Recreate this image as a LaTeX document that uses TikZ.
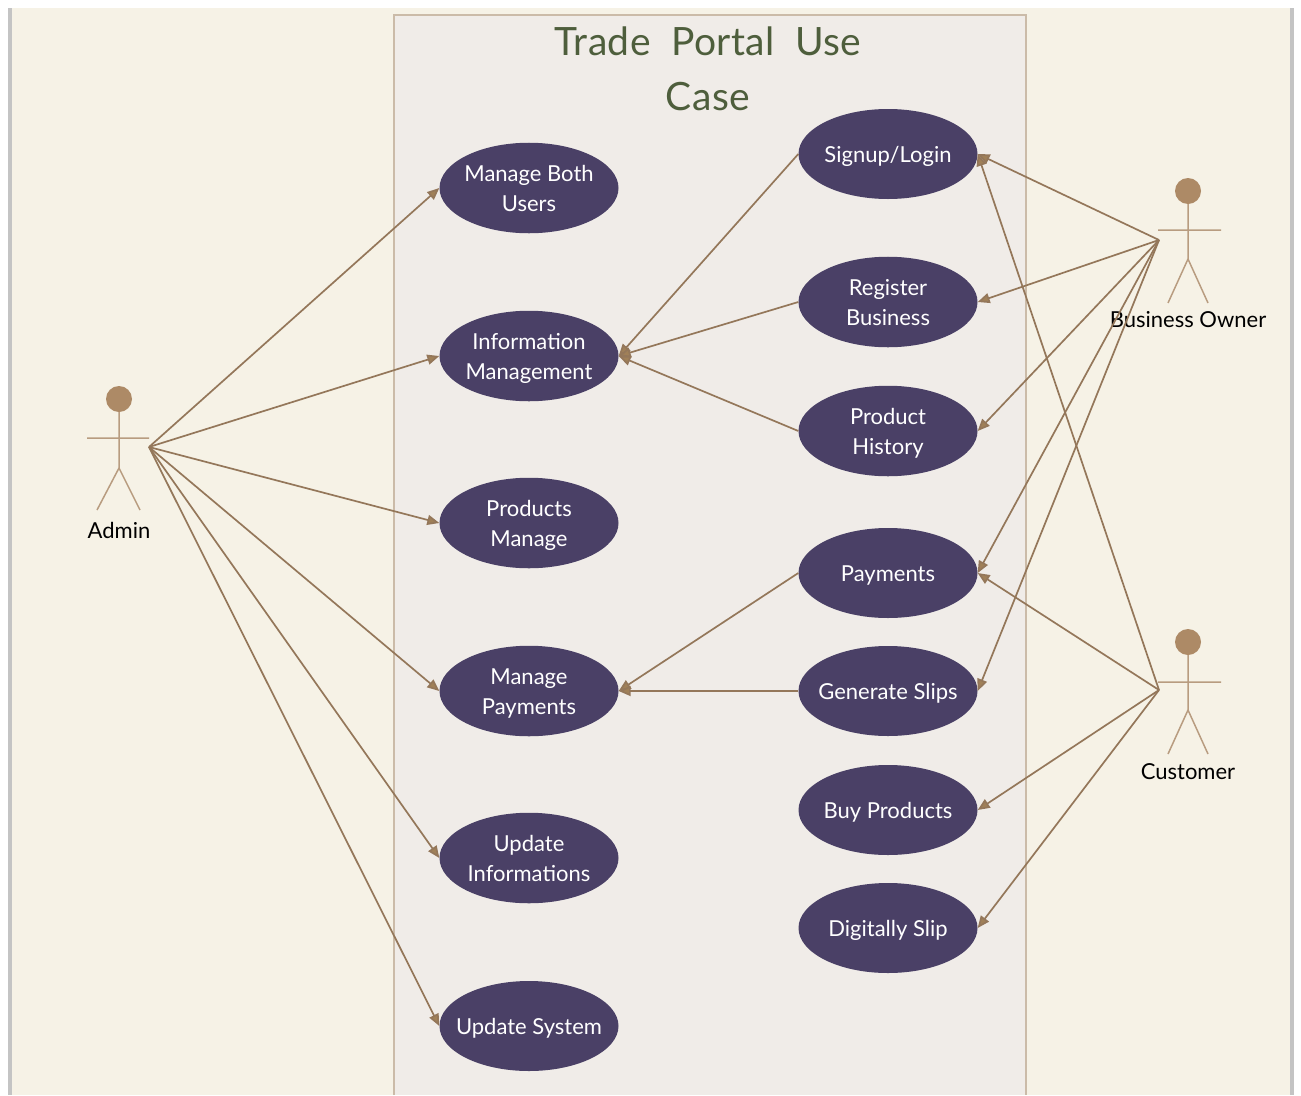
\documentclass[tikz,border=0pt]{standalone}
\usepackage{fontspec}
\setmainfont{Lato}
\newfontfamily\titlefont[WordSpace=2,LetterSpace=1]{Lato}
\usetikzlibrary{shapes.geometric,arrows.meta}
\definecolor{bgc}{HTML}{F6F2E6}
\definecolor{framefill}{HTML}{F0ECE8}
\definecolor{frameline}{HTML}{CBBBA8}
\definecolor{uc}{HTML}{4A4066}
\definecolor{edgec}{HTML}{94775A}
\definecolor{tipc}{HTML}{A08058}
\definecolor{actorc}{HTML}{B89C80}
\definecolor{headc}{HTML}{AD8A66}
\definecolor{titlec}{HTML}{4E5E3C}
\definecolor{sidec}{HTML}{C4C4C4}
\newcommand{\uctext}[1]{\raisebox{0pt}[\dimexpr\height+4pt\relax][\depth]{\makebox[0pt][c]{\begin{tabular}{@{}c@{}}#1\end{tabular}}}}
\tikzset{
  usecase/.style={ellipse,fill=uc,minimum width=179pt,minimum height=90pt,inner sep=0pt,
    text=white,font=\fontsize{22}{30}\selectfont},
  rel/.style={draw=edgec,line width=1.7pt,-{Triangle[length=12pt,width=10pt,fill=tipc]}},
  limb/.style={draw=actorc,line width=1.5pt},
  head/.style={circle,fill=headc,minimum size=26pt,inner sep=0pt},
  actorlabel/.style={text=black,inner sep=0pt,font=\fontsize{22}{26}\selectfont},
  titlelabel/.style={text=titlec,align=center,inner sep=0pt,font=\titlefont\fontsize{39}{55}\selectfont}
}
\begin{document}
\begin{tikzpicture}[x=1pt,y=-1pt]
\useasboundingbox (0,0) rectangle (1301,1095);
\fill[white] (0,0) rectangle (1301,1095);
\fill[bgc] (12,8) rectangle (1290,1095);
\fill[sidec] (8,8) rectangle (12,1095);
\fill[sidec] (1290,8) rectangle (1294,1095);
\draw[draw=frameline,fill=framefill,line width=1.2pt] (394,1095) -- (394,15) -- (1026,15) -- (1026,1095);
\node[titlelabel] (title) at (708,69) {Trade Portal Use\\Case};
% use cases
\node[usecase] (mb) at (529,188) {\uctext{Manage Both\\Users}};
\node[usecase] (im) at (529,356) {\uctext{Information\\Management}};
\node[usecase] (pm) at (529,523) {\uctext{Products\\Manage}};
\node[usecase] (mp) at (529,691) {\uctext{Manage\\Payments}};
\node[usecase] (ui) at (529,858) {\uctext{Update\\Informations}};
\node[usecase] (us) at (529,1026) {\uctext{Update System}};
\node[usecase] (sl) at (888,154) {\uctext{Signup/Login}};
\node[usecase] (rb) at (888,302) {\uctext{Register\\Business}};
\node[usecase] (ph) at (888,431) {\uctext{Product\\History}};
\node[usecase] (pa) at (888,573) {\uctext{Payments}};
\node[usecase] (gs) at (888,691) {\uctext{Generate Slips}};
\node[usecase] (bp) at (888,810) {\uctext{Buy Products}};
\node[usecase] (ds) at (888,928) {\uctext{Digitally Slip}};
% actors
\node[head] (ahead) at (119,399) {};
\draw[limb] (ahead.south) -- (119,468) -- (97,510) (119,468) -- (140,510) (87,438) -- (149,438);
\node[actorlabel] (alabel) at (119,530) {Admin};
\coordinate (aport) at (149,447);
\node[head] (bhead) at (1188,191) {};
\draw[limb] (bhead.south) -- (1188,259) -- (1168,303) (1188,259) -- (1208,303) (1158,230) -- (1221,230);
\node[actorlabel] (blabel) at (1188,320) {Business Owner};
\coordinate (bport) at (1159,240);
\node[head] (chead) at (1188,642) {};
\draw[limb] (chead.south) -- (1188,710) -- (1168,754) (1188,710) -- (1208,754) (1158,682) -- (1221,682);
\node[actorlabel] (clabel) at (1188,772) {Customer};
\coordinate (cport) at (1159,690);
% connectors
\foreach \t in {mb,im,pm,mp,ui,us} \draw[rel] (aport) -- (\t.west);
\foreach \s in {sl,rb,ph} \draw[rel] (\s.west) -- (im.east);
\foreach \s in {pa,gs} \draw[rel] (\s.west) -- (mp.east);
\foreach \t in {sl,rb,ph,pa,gs} \draw[rel] (bport) -- (\t.east);
\foreach \t in {sl,pa,bp,ds} \draw[rel] (cport) -- (\t.east);
\end{tikzpicture}
\end{document}
